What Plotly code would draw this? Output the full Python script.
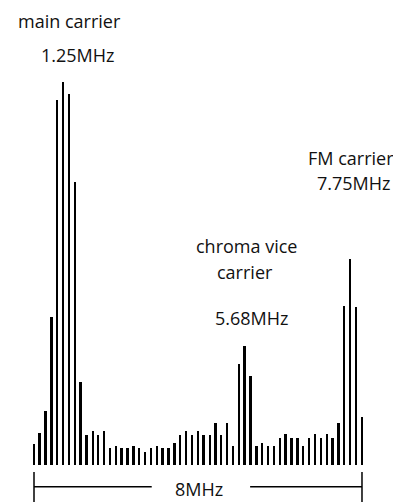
import plotly.graph_objects as go

# Spectrum line amplitudes (arbitrary units), 57 lines across 8 MHz
amplitudes = [
    20.7, 31.7, 54.3, 148.3, 365, 382.7, 371, 282.7, 83.3, 30,
    34.3, 30, 34.3, 16.7, 19, 16.7, 16.7, 19, 16.7, 12.7,
    16.7, 19, 16.7, 16.7, 21.7, 30, 34.3, 30, 34.3, 30,
    30, 42.3, 30, 42.3, 19, 101, 119, 89.3, 19, 21.7,
    19, 19.3, 27, 30.7, 27, 27, 19.3, 27, 30.7, 27,
    30.7, 27, 42.3, 159.3, 206, 158.3, 48.3,
]
line_index = list(range(len(amplitudes)))

# Annotation texts
labels = [
    ("main carrier", 6.0, 444),
    ("1.25MHz", 7.5, 410),
    ("chroma vice", 36.3, 219),
    ("carrier", 36.1, 193),
    ("5.68MHz", 37.3, 147),
    ("FM carrier", 54.2, 307),
    ("7.75MHz", 54.7, 282),
]
span_label = "8MHz"

FONT = "Open Sans"
SIZE = 18

# page has an 8px body margin: figure is drawn 8px right/down of the window origin
OFF = 8
W, H = 401 - OFF, 502 - OFF
STEP = 5.857
LEFT = 34 - OFF
BASE = 465 - OFF

fig = go.Figure()
fig.add_trace(go.Bar(
    x=line_index, y=amplitudes, width=0.34,
    marker=dict(color="black", line=dict(width=0)),
    hoverinfo="skip",
))

n = len(amplitudes) - 1
annotations = []
for text, xi, yv in labels:
    annotations.append(dict(x=xi, y=yv, xref="x", yref="y", text=text,
                            showarrow=False, font=dict(family=FONT, size=SIZE, color="#111")))
annotations.append(dict(x=n / 2 + 0.15, y=-24, xref="x", yref="y", text=span_label,
                        showarrow=False, font=dict(family=FONT, size=SIZE, color="#111")))

line_style = dict(color="black", width=1.5)
shapes = [
    dict(type="line", xref="x", yref="y", x0=0, x1=0, y0=-7, y1=-37, line=line_style),
    dict(type="line", xref="x", yref="y", x0=n, x1=n, y0=-7, y1=-37, line=line_style),
    dict(type="line", xref="x", yref="y", x0=0, x1=20.1, y0=-21.7, y1=-21.7, line=line_style),
    dict(type="line", xref="x", yref="y", x0=36.9, x1=n, y0=-21.7, y1=-21.7, line=line_style),
]

x0 = -LEFT / STEP
fig.update_layout(
    width=W, height=H,
    margin=dict(l=0, r=0, t=0, b=0),
    paper_bgcolor="white", plot_bgcolor="white",
    showlegend=False,
    bargap=0,
    xaxis=dict(range=[x0, x0 + W / STEP], visible=False, fixedrange=True),
    yaxis=dict(range=[-(H - BASE), BASE], visible=False, fixedrange=True),
    annotations=annotations,
    shapes=shapes,
)

fig.write_html("out.html")
